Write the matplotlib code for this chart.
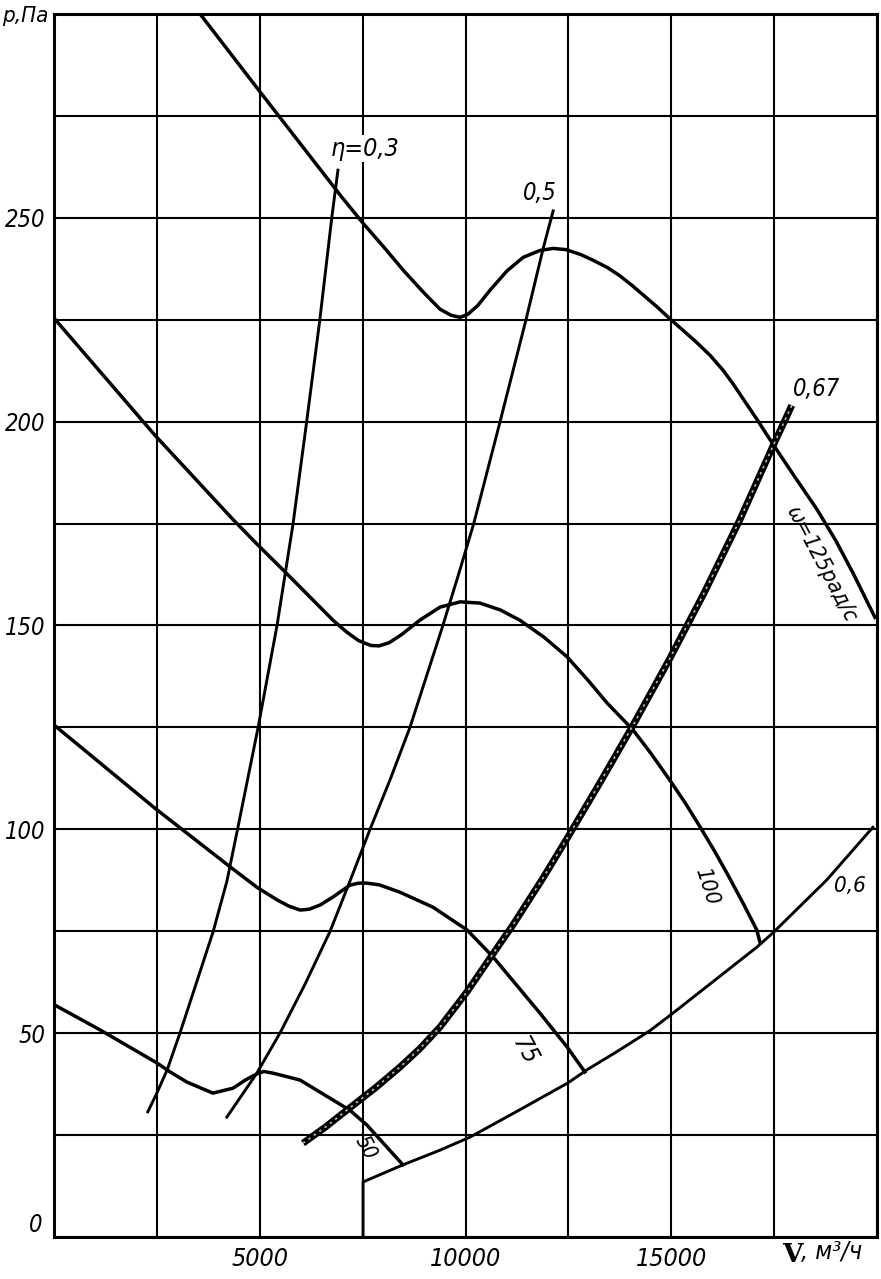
import matplotlib
matplotlib.use("Agg")
import matplotlib.pyplot as plt
import matplotlib.transforms as mtransforms

# --- data (V in m3/h, p in Pa) ---
w125_V = [3550, 5000, 6000, 7000, 7500, 8000, 8500, 9000, 9380, 9650, 9870, 10050, 10300,
          10600, 11010, 11400, 11810, 12130, 12440, 12800, 13100, 13450, 13750, 14050,
          14350, 14650, 14950, 15600, 15950, 16260, 16500, 16700, 17080, 17470, 18000,
          18540, 19000, 19420, 19950]
w125_p = [300, 281, 268, 255, 248.8, 243, 237, 231.5, 227.6, 226.1, 225.6, 226.3, 228.5,
          232.3, 237, 240.3, 242, 242.5, 242.2, 241, 239.6, 237.8, 235.8, 233.4,
          230.8, 228.2, 225.4, 219.6, 216.2, 212.6, 209.3, 206.3, 200.6, 194.5, 186.5,
          178.5, 170.8, 162.8, 152]

w100_V = [0, 2450, 4350, 4930, 5570, 6780, 7100, 7400, 7700, 7900, 8150, 8450, 8890, 9380,
          9870, 10350, 10850, 11320, 11900, 12470, 13000, 13440, 14070, 14500, 14970,
          15350, 15700, 16050, 16350, 16750, 17080, 17160]
w100_p = [225.4, 196.7, 176, 170, 163.6, 151.3, 148.5, 146.3, 145.1, 145, 145.8, 147.8,
          151.3, 154.5, 155.8, 155.5, 153.8, 151.3, 147.2, 142.3, 136.3, 131, 124.4, 118.7,
          112, 106.3, 100.6, 94.7, 89.3, 81.8, 75.3, 72.1]

w75_V = [0, 2450, 4280, 4930, 5420, 5700, 5980, 6200, 6460, 6780, 7190, 7400, 7600, 7900,
         8400, 9210, 10040, 10670, 11810, 12470, 12900]
w75_p = [125.6, 105.2, 90.8, 85.8, 82.7, 81.2, 80.2, 80.4, 81.4, 83.4, 86.3, 86.8, 86.8,
         86.4, 84.6, 80.9, 75.3, 68.7, 54.9, 46.6, 40.5]

w50_V = [0, 1120, 2500, 2820, 3230, 3860, 4350, 4650, 4930, 5100, 5320, 5980, 6780, 7190,
         7600, 8480]
w50_p = [57, 50.8, 42.7, 40.5, 38, 35.3, 36.5, 38.5, 40, 40.6, 40.2, 38.5, 33.6, 31.1,
         27.5, 17.7]

eta03_V = [2280, 2500, 2750, 3060, 3450, 3870, 4200, 4450, 4960, 5420, 5810, 6140, 6460,
           6750, 6900]
eta03_p = [30.7, 35.3, 41, 50, 62, 75, 87.2, 99.5, 125, 150, 175, 200, 225, 250, 261.7]

eta05_V = [4200, 4930, 5490, 6100, 6710, 7200, 7680, 8180, 8650, 9050, 9450, 9830, 10200,
           10840, 11470, 11890, 12130]
eta05_p = [29.4, 40.2, 50, 62, 75, 87.5, 100, 112.5, 125, 137.5, 150, 162.5, 175, 200,
           225, 242.6, 251.7]

eta067_V = [6050, 6600, 7190, 7800, 8410, 8900, 9380, 10040, 10670, 11150, 11880, 12470,
            13300, 14070, 14970, 15800, 16670, 17470, 17930]
eta067_p = [23, 27, 31.7, 36.5, 41.7, 46.3, 51.5, 60.2, 69.5, 76.5, 88, 97.8, 112, 125.5,
            142, 158, 176, 194, 204]

eta06_V = [7510, 7510, 8480, 9380, 10110, 11300, 12490, 12950, 13700, 14480, 15040, 16060,
           17080, 17470, 18780, 19900]
eta06_p = [0, 13.5, 17.7, 21.3, 24.5, 31.1, 37.8, 41, 45.6, 50.6, 54.9, 63, 71.1, 74.6,
           87.6, 100.5]

x_ticks = [0, 2500, 5000, 7500, 10000, 12500, 15000, 17500, 20000]
x_labels = ["", "", "5000", "", "10000", "", "15000", "", ""]
y_ticks = [0, 25, 50, 75, 100, 125, 150, 175, 200, 225, 250, 275, 300]
y_labels = ["0", "", "50", "", "100", "", "150", "", "200", "", "250", "", ""]

# curve labels: text, V, p, rotation, size
curve_labels = [
    ("η=0,3", 7560, 267, 0, 18),
    ("0,5", 11810, 256, 0, 17),
    ("0,67", 18540, 208, 0, 17),
    ("ω=125рад/с", 18650, 165, -62, 16),
    ("100", 15870, 86, -72, 16),
    ("75", 11450, 45.5, -62, 18),
    ("50", 7560, 21.8, -62, 15),
    ("0,6", 19340, 86, 0, 16),
]

fam = ["DejaVu Sans"]
stretch = "condensed"

fig = plt.figure(figsize=(8.81, 12.79), dpi=100)
ax = fig.add_axes([54 / 881, 1 - 1237 / 1279, 823 / 881, 1223 / 1279])

ax.set_xlim(0, 20000)
ax.set_ylim(0, 300)
ax.set_xticks(x_ticks)
ax.set_xticklabels(x_labels, family=fam, stretch=stretch, style="italic", fontsize=18)
ax.set_yticks(y_ticks)
ax.set_yticklabels(y_labels, family=fam, stretch=stretch, style="italic", fontsize=17)
ax.tick_params(length=0, pad=6)
ax.tick_params(axis="x", pad=7)
ax.grid(True, color="black", linewidth=1.5)
ax.set_axisbelow(True)
for s in ax.spines.values():
    s.set_linewidth(2.2)

# the "0" label sits a little above the axis in the original
zero = ax.get_yticklabels()[0]
zero.set_transform(zero.get_transform() +
                   mtransforms.ScaledTranslation(-0.03, 0.14, fig.dpi_scale_trans))

lw = 2.5
for V, p in [(w125_V, w125_p), (w100_V, w100_p), (w75_V, w75_p), (w50_V, w50_p)]:
    ax.plot(V, p, color="black", linewidth=lw, solid_joinstyle="round")
for V, p in [(eta03_V, eta03_p), (eta05_V, eta05_p), (eta06_V, eta06_p)]:
    ax.plot(V, p, color="black", linewidth=2.1, solid_joinstyle="round")

# thick hatched 0.67 line
ax.plot(eta067_V, eta067_p, color="black", linewidth=5, solid_capstyle="butt",
        solid_joinstyle="round")
ax.plot(eta067_V, eta067_p, color="#bbbbbb", linewidth=1.2, dashes=(1.5, 2.5))

for txt, V, p, rot, fs in curve_labels:
    box = None
    if txt.startswith("η"):
        box = dict(facecolor="white", edgecolor="none", pad=1)
    ax.text(V, p, txt, family=fam, stretch=stretch, style="italic", fontsize=fs,
            rotation=rot, rotation_mode="anchor", ha="center", va="center", bbox=box)

fig.text(2 / 881, 1 - 16 / 1279, "p,Па", family=fam, stretch=stretch, style="italic",
         fontsize=16, ha="left", va="center")
fig.text(782 / 881, 1 - 1254 / 1279, "V", family="DejaVu Serif", weight="bold",
         fontsize=19, ha="left", va="center")
fig.text(801 / 881, 1 - 1252 / 1279, ", м³/ч", family=fam, stretch=stretch, style="italic",
         fontsize=18, ha="left", va="center")

fig.savefig("out.png", dpi=100)
